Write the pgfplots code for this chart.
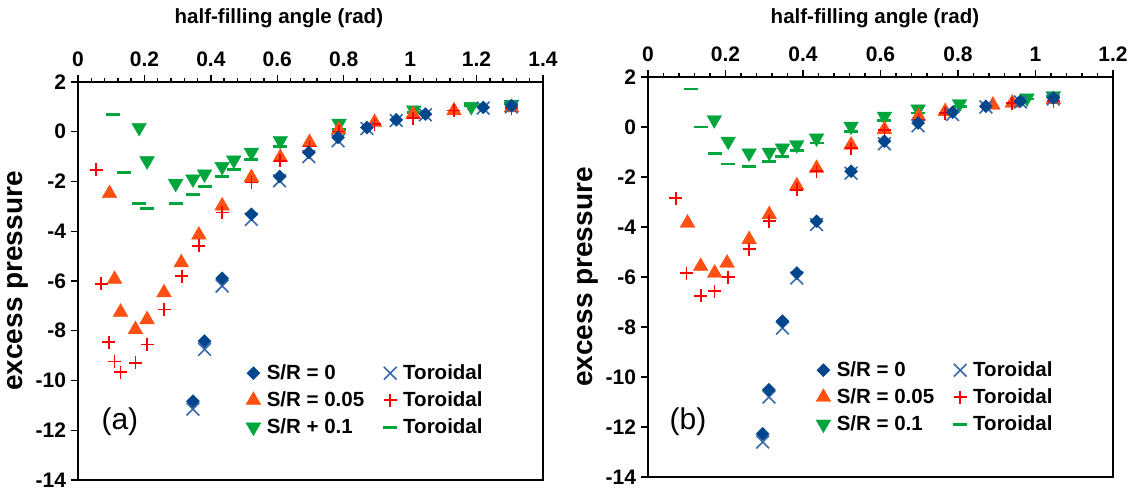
\documentclass[border=0pt]{standalone}
\usepackage{pgfplots}
\pgfplotsset{compat=1.18}
\usepackage{fontspec}
\setmainfont{Liberation Sans}
\definecolor{cblue}{RGB}{0,70,140}
\definecolor{cxblue}{RGB}{55,105,170}
\definecolor{corange}{RGB}{255,80,20}
\definecolor{cred}{RGB}{255,0,0}
\definecolor{cgreen}{RGB}{0,165,60}
\newcommand{\tfont}{\fontsize{20.5bp}{24bp}\selectfont\bfseries}
\newcommand{\kfont}{\fontsize{21bp}{24bp}\selectfont\bfseries}
\newcommand{\yfont}{\fontsize{28bp}{32bp}\selectfont\bfseries}
\pgfplotsset{
  legend image code/.code={\draw[#1, mark repeat=2, mark phase=2] plot coordinates {(0bp,0bp)(6bp,0bp)(12bp,0bp)};},
  panel/.style={
    scale only axis, width=465bp,
    xmin=0, ymin=-14, ymax=2,
    axis line style={line width=2.6bp},
    every tick/.style={black, line width=1.4bp},
    major tick length=7bp, minor tick length=4bp,
    tick align=outside,
    xtick pos=upper, xticklabel pos=upper, ytick pos=left,
    minor x tick num=4,
    ytick={-14,-12,-10,-8,-6,-4,-2,0,2},
    /pgf/number format/assume math mode=true,
    ticklabel style={font=\kfont},
    xlabel style={font=\tfont},
    ylabel style={font=\yfont},
    xticklabel shift=5bp, yticklabel shift=1.5bp,
    ylabel={excess pressure},
    xlabel={half-filling angle (rad)},
    legend columns=2,
    legend cell align=left,
    legend style={draw=none, fill=none, font=\tfont, anchor=north west, inner sep=0pt,
      row sep=7bp,
      nodes={inner xsep=6bp, inner ysep=2bp, text height=14bp, text depth=2bp},
      /tikz/column 2/.style={column sep=13bp}},
  },
  sdia/.style={only marks, color=cblue, mark=square*, mark size=4.6bp, mark options={rotate=45, draw=cblue, fill=cblue}},
  sx/.style={only marks, color=cxblue, mark=x, mark size=9bp, mark options={line width=1.6bp}},
  stri/.style={only marks, color=corange, mark=triangle*, mark size=8.5bp, mark options={draw=corange, fill=corange}},
  splus/.style={only marks, color=cred, mark=+, mark size=6.5bp, mark options={line width=1.6bp}},
  sdown/.style={only marks, color=cgreen, mark=triangle*, mark size=8.5bp, mark options={rotate=180, draw=cgreen, fill=cgreen}},
  sdash/.style={only marks, color=cgreen, mark=-, mark size=7bp, mark options={line width=2.8bp}},
}
\begin{document}
\begin{tikzpicture}
% ---------------- panel (a)
\begin{axis}[panel, at={(78bp,-480bp)}, anchor=south west, height=398bp, xmax=1.4,
  xtick={0,0.2,0.4,0.6,0.8,1,1.2,1.4},
  legend style={at={(0.361,0.294)}},
  xlabel style={at={(axis description cs:0.432,1.161)}, anchor=center},
  ylabel style={at={(axis description cs:-0.129,0.5)}, anchor=center}]
\addlegendimage{sdia}\addlegendentry{S/R = 0}
\addlegendimage{sx}\addlegendentry{Toroidal}
\addlegendimage{stri}\addlegendentry{S/R = 0.05}
\addlegendimage{splus}\addlegendentry{Toroidal}
\addlegendimage{sdown}\addlegendentry{S/R + 0.1}
\addlegendimage{sdash}\addlegendentry{Toroidal}
\addplot[sdown, forget plot] coordinates {
(0.184,0.17)(0.208,-1.17)(0.294,-2.08)(0.346,-1.90)(0.381,-1.70)(0.434,-1.40)
(0.469,-1.14)(0.522,-0.83)(0.609,-0.36)(0.786,0.34)(1.011,0.87)(1.184,1.01)(1.305,1.10)};
\addplot[sdash, forget plot] coordinates {
(0.105,0.68)(0.138,-1.64)(0.184,-2.89)(0.208,-3.07)(0.294,-2.89)(0.346,-2.51)
(0.381,-2.21)(0.434,-1.80)(0.469,-1.53)(0.522,-1.13)(0.609,-0.60)(0.786,0.10)
(1.011,0.78)(1.184,1.05)(1.305,1.15)};
\addplot[stri, forget plot] coordinates {
(0.095,-2.48)(0.110,-5.93)(0.128,-7.25)(0.173,-7.95)(0.208,-7.55)(0.259,-6.47)
(0.311,-5.26)(0.364,-4.15)(0.434,-2.98)(0.522,-1.84)(0.609,-1.03)(0.697,-0.43)
(0.785,0.08)(0.893,0.38)(1.009,0.70)(1.132,0.85)(1.305,0.97)};
\addplot[splus, forget plot] coordinates {
(0.055,-1.53)(0.070,-6.11)(0.093,-8.46)(0.110,-9.23)(0.128,-9.66)(0.173,-9.29)
(0.208,-8.55)(0.259,-7.14)(0.313,-5.80)(0.364,-4.59)(0.434,-3.25)(0.522,-2.04)
(0.609,-1.17)(0.697,-0.60)(0.785,0.01)(0.893,0.31)(1.009,0.55)(1.132,0.85)(1.305,0.95)};
\addplot[sx, forget plot] coordinates {
(1.305,1.00)(1.220,0.95)(1.046,0.68)(0.958,0.45)(0.870,0.13)(0.783,-0.36)
(0.695,-1.00)(0.607,-1.97)(0.522,-3.52)(0.434,-6.20)(0.381,-8.75)(0.346,-11.15)};
\addplot[sdia, forget plot] coordinates {
(1.305,1.05)(1.220,0.98)(1.046,0.71)(0.958,0.48)(0.870,0.17)(0.783,-0.23)
(0.695,-0.83)(0.607,-1.80)(0.522,-3.32)(0.434,-5.89)(0.381,-8.42)(0.346,-10.83)};
\node[font=\fontsize{30bp}{34bp}\selectfont] at (rel axis cs:0.090,0.146) {(a)};
\end{axis}
% ---------------- panel (b)
\begin{axis}[panel, at={(648bp,-477bp)}, anchor=south west, height=400bp, xmax=1.2,
  xtick={0,0.2,0.4,0.6,0.8,1,1.2},
  legend style={at={(0.361,0.2925)}},
  xlabel style={at={(axis description cs:0.488,1.148)}, anchor=center},
  ylabel style={at={(axis description cs:-0.129,0.5)}, anchor=center}]
\addlegendimage{sdia}\addlegendentry{S/R = 0}
\addlegendimage{sx}\addlegendentry{Toroidal}
\addlegendimage{stri}\addlegendentry{S/R = 0.05}
\addlegendimage{splus}\addlegendentry{Toroidal}
\addlegendimage{sdown}\addlegendentry{S/R = 0.1}
\addlegendimage{sdash}\addlegendentry{Toroidal}
\addplot[sdown, forget plot] coordinates {
(0.171,0.29)(0.207,-0.57)(0.261,-1.04)(0.313,-1.01)(0.347,-0.84)(0.384,-0.71)
(0.435,-0.44)(0.524,0.03)(0.610,0.43)(0.697,0.72)(0.804,0.93)(0.978,1.16)(1.046,1.25)};
\addplot[sdash, forget plot] coordinates {
(0.112,1.52)(0.138,0.00)(0.172,-1.07)(0.207,-1.48)(0.261,-1.57)(0.313,-1.37)
(0.347,-1.17)(0.384,-0.93)(0.435,-0.64)(0.524,-0.17)(0.610,0.25)(0.697,0.56)
(0.804,0.83)(0.978,1.12)(1.046,1.23)};
\addplot[stri, forget plot] coordinates {
(0.102,-3.84)(0.136,-5.57)(0.172,-5.84)(0.204,-5.44)(0.261,-4.50)(0.313,-3.50)
(0.384,-2.35)(0.435,-1.65)(0.524,-0.72)(0.610,-0.10)(0.698,0.43)(0.767,0.62)
(0.890,0.88)(0.940,0.96)(1.046,1.10)};
\addplot[splus, forget plot] coordinates {
(0.072,-2.84)(0.099,-5.84)(0.136,-6.75)(0.172,-6.57)(0.207,-6.01)(0.261,-4.88)
(0.313,-3.77)(0.384,-2.51)(0.435,-1.77)(0.524,-0.84)(0.610,-0.13)(0.698,0.29)
(0.767,0.56)(0.940,0.96)(1.046,1.03)};
\addplot[sx, forget plot] coordinates {
(1.046,1.12)(0.961,1.00)(0.872,0.80)(0.786,0.50)(0.697,0.05)(0.610,-0.67)
(0.524,-1.85)(0.435,-3.90)(0.384,-6.04)(0.347,-8.04)(0.312,-10.80)(0.296,-12.60)};
\addplot[sdia, forget plot] coordinates {
(1.046,1.16)(0.961,1.03)(0.872,0.83)(0.786,0.59)(0.697,0.16)(0.610,-0.57)
(0.524,-1.77)(0.435,-3.77)(0.384,-5.84)(0.347,-7.77)(0.312,-10.51)(0.296,-12.27)};
\node[font=\fontsize{30bp}{34bp}\selectfont] at (rel axis cs:0.086,0.1375) {(b)};
\end{axis}
\pgfresetboundingbox
\path (0,0) rectangle (1131bp,-493bp);
\end{tikzpicture}
\end{document}
